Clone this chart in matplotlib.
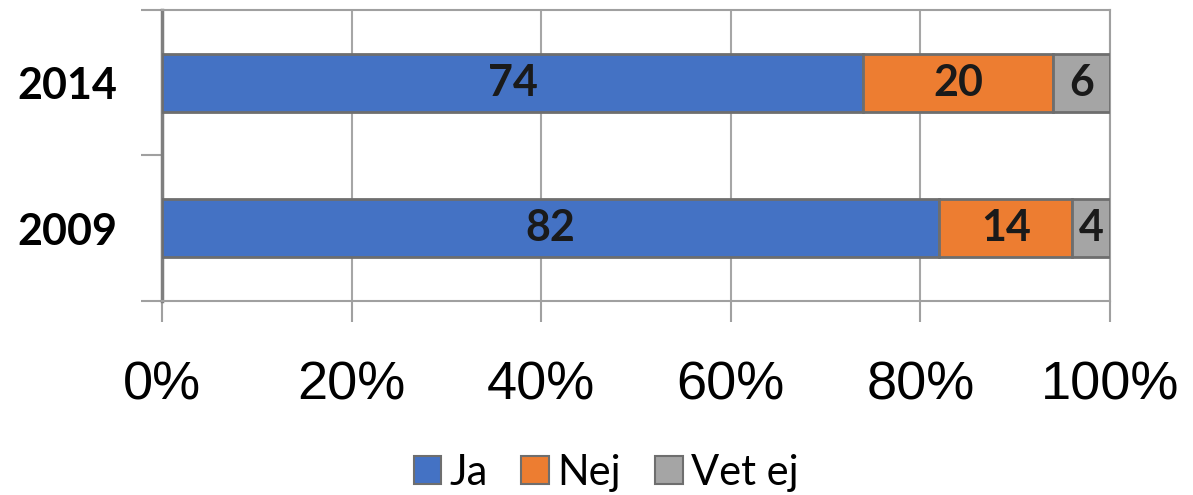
import numpy as np
import matplotlib
matplotlib.use('Agg')
import matplotlib.pyplot as plt
from matplotlib.patches import Patch

plt.rcParams['font.family'] = 'Liberation Sans'

years = ['2009', '2014']
ja = [82, 74]
nej = [14, 20]
vet_ej = [4, 6]
series_names = ['Ja', 'Nej', 'Vet ej']
colors = ['#4472C4', '#ED7D31', '#A5A5A5']
xticks = [0, 20, 40, 60, 80, 100]

fig = plt.figure(figsize=(11.93, 4.95), dpi=100)
ax = fig.add_axes([0.1358, 0.392, 0.7946, 0.588])

y = np.arange(len(years))
left = np.zeros(len(years))
for vals, c in zip([ja, nej, vet_ej], colors):
    vals = np.array(vals, dtype=float)
    ax.barh(y, vals, left=left, height=0.4, color=c, edgecolor='#6E6E6E', linewidth=2, zorder=3)
    for yi, l, v in zip(y, left, vals):
        ax.text(l + v / 2, yi, f'{int(v)}', ha='center', va='center',
                fontsize=31, fontweight='bold', family='Lato', color='#1a1a1a', zorder=4)
    left += vals

ax.set_xlim(0, 100)
ax.set_ylim(-0.5, 1.5)
ax.set_xticks(xticks)
ax.set_xticklabels([f'{t}%' for t in xticks], fontsize=39, family='Liberation Sans')
ax.set_yticks([-0.5, 0.5, 1.5])
ax.set_yticklabels([])
ax.set_yticks(y, minor=True)
ax.set_yticklabels(years, minor=True, fontsize=31, fontweight='bold', family='Lato')
ax.tick_params(axis='y', which='minor', length=0, pad=32)
ax.tick_params(axis='y', which='major', length=15, width=1.5, color='#A0A0A0')
ax.tick_params(axis='x', length=15, width=1.5, color='#A0A0A0', pad=28)
ax.grid(axis='x', color='#A6A6A6', linewidth=1.5, zorder=0)
for s in ['top', 'bottom', 'right']:
    ax.spines[s].set_color('#A0A0A0')
    ax.spines[s].set_linewidth(1.5)
ax.spines['left'].set_color('#7F7F7F')
ax.spines['left'].set_linewidth(2.5)

handles = [Patch(facecolor=c, edgecolor='#6E6E6E', linewidth=1.5) for c in colors]
fig.legend(handles, series_names, loc='center', bbox_to_anchor=(0.508, 0.045), ncol=3, frameon=False,
           prop={'family': 'Lato', 'size': 30}, handlelength=0.67, handleheight=0.67,
           handletextpad=0.2, columnspacing=0.8)

fig.savefig('out.png', dpi=100)
